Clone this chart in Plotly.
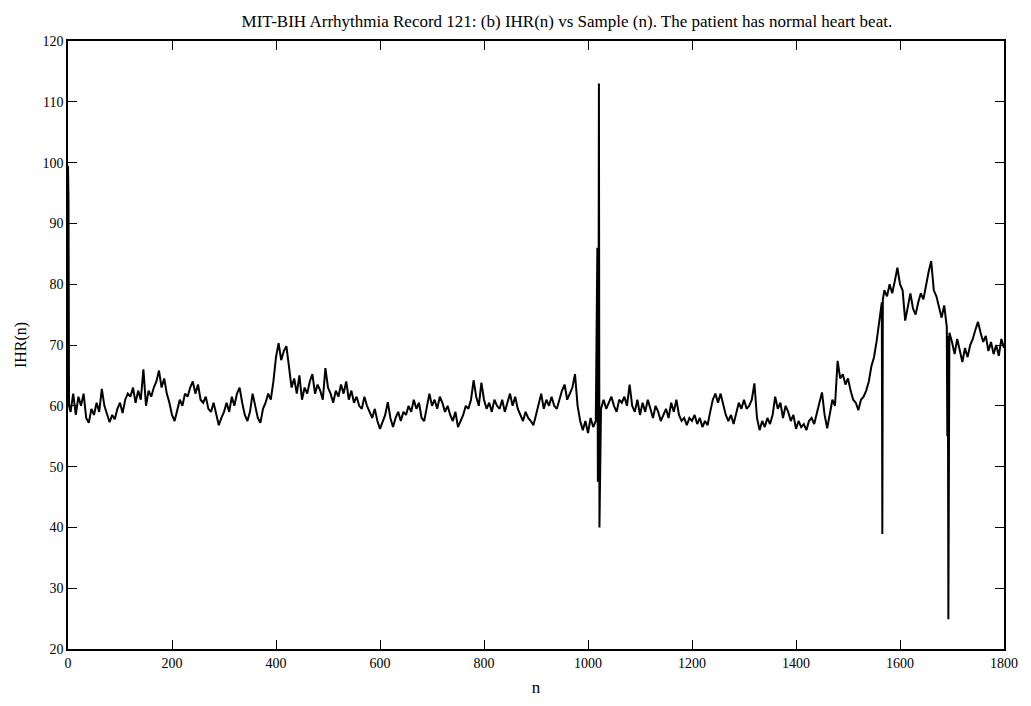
import plotly.graph_objects as go

n_step = 5
ihr_main = [
    # 0-45
    99.5, 59, 62, 58.5, 61.5, 60, 62, 58, 57.2, 59.5,
    # 50-95
    58.5, 60.5, 59, 62.8, 60, 58.5, 57.3, 58.5, 57.8, 59.5,
    # 100-145
    60.5, 58.8, 61, 62, 61.5, 63, 60.5, 62.5, 61, 66,
    # 150-195
    60, 62.5, 61.5, 63, 64, 65.8, 63, 64.5, 62, 60.5,
    # 200-245
    58.5, 57.5, 59.5, 61, 60, 62, 61.5, 63, 64, 62,
    # 250-295
    63.5, 61, 60.5, 61.5, 59.5, 59, 60.5, 58.5, 56.8, 58,
    # 300-345
    59, 60.5, 59, 61.5, 60, 62, 63, 60.5, 58.5, 57.5,
    # 350-395
    59, 62, 60, 58, 57.2, 59.5, 60.5, 62, 61, 64,
    # 400-445
    68, 70.3, 67.5, 69, 69.8, 66, 63, 64.5, 62, 65,
    # 450-495
    61, 63, 62, 64, 65.2, 62, 63.5, 62.5, 61, 66.2,
    # 500-545
    63, 62, 60.5, 62.5, 61.5, 63.5, 62, 64, 61, 62.5,
    # 550-595
    60.5, 61.5, 60, 59.5, 61.5, 60, 59, 58, 59.5, 57.5,
    # 600-645
    56.2, 57.5, 58.5, 60.6, 58, 56.5, 58, 59, 57.5, 59,
    # 650-695
    58.5, 60, 59, 61, 59.5, 60.5, 58, 57.5, 59.5, 62,
    # 700-745
    60, 61, 59.5, 61.5, 60.5, 59, 60, 58.5, 57.5, 59,
    # 750-795
    56.5, 57.5, 58.5, 60, 59.5, 61, 64.2, 61.5, 60, 63.8,
    # 800-845
    61, 59.5, 60.5, 59, 61, 60, 59.5, 61, 59, 60.5,
    # 850-895
    62, 60, 61.5, 59.5, 58.5, 57.5, 59, 58, 57.5, 56.8,
    # 900-945
    58.5, 60.5, 62, 59.5, 61, 60, 61.5, 60, 59.5, 61,
    # 950-995
    62.5, 63.5, 61, 62, 63, 65.2, 60, 57.5, 56, 57.5,
    # 1000-1045
    55.5, 58, 56.5, 57.5, 57, 59.5, 61, 59.5, 60.5, 61.5,
    # 1050-1095
    60, 59, 61, 60.5, 61.5, 60, 63.5, 60, 59, 61,
    # 1100-1145
    58.5, 60.5, 59, 61, 59.5, 58, 60, 59, 57.5, 58.5,
    # 1150-1195
    59.5, 58, 60.5, 59, 61, 58.5, 57.5, 58, 56.8, 58,
    # 1200-1245
    57.5, 58.5, 57, 58, 56.5, 57.5, 56.8, 59, 61, 62,
    # 1250-1295
    60.5, 62, 60, 58.5, 57.5, 58.5, 57, 59, 60.5, 59.5,
    # 1300-1345
    61, 59.5, 60, 61, 63.7, 58, 56, 57.5, 56.5, 58,
    # 1350-1395
    57, 58.5, 61.5, 59.5, 60.5, 58, 60, 59, 57.5, 58.5,
    # 1400-1445
    56.2, 57.5, 56.5, 57, 56, 57.5, 58, 57, 59, 60.5,
    # 1450-1495
    62.2, 58.5, 56.3, 58.5, 61, 60, 67.4, 64.5, 65.2, 63.5,
    # 1500-1545
    64.5, 62.5, 61, 60.5, 59.3, 61, 61.5, 62.5, 64, 66.5,
    # 1550-1595
    68, 70.6, 74, 77, 79, 78, 80, 78.5, 80.5, 82.7,
    # 1600-1645
    80, 79, 74, 76.5, 78.5, 76, 75, 77, 78.5, 77.5,
    # 1650-1695
    80, 82, 83.8, 79, 78, 76, 74.5, 76.5, 73, 72,
    # 1700-1745
    70.5, 68.5, 71, 69, 67.2, 69.5, 68, 70, 71, 72.5,
    # 1750-1795
    73.8, 72, 70.5, 71.5, 69, 70.5, 68.5, 70, 68.2, 71,
    # 1800
    69.5,
]

# isolated single-beat outliers (ectopic / detection glitches)
spike_n = [1, 2, 1018, 1019, 1021, 1022, 1566, 1567, 1691, 1692, 1693, 1694]
spike_ihr = [93.5, 60, 86, 47.5, 113, 40, 38.9, 77.5, 55, 71.5, 24.9, 70]

x_ticks = [0, 200, 400, 600, 800, 1000, 1200, 1400, 1600, 1800]
y_ticks = [20, 30, 40, 50, 60, 70, 80, 90, 100, 110, 120]

title_text = ("MIT-BIH Arrhythmia Record 121: (b) IHR(n) vs Sample (n). "
              "The patient has normal heart beat.")

# ---- build the series ----
n_main = [i * n_step for i in range(len(ihr_main))]
pairs = sorted(list(zip(n_main, ihr_main)) + list(zip(spike_n, spike_ihr)))
n_all = [p[0] for p in pairs]
ihr_all = [p[1] for p in pairs]

font_family = "Liberation Serif, Times New Roman, serif"

fig = go.Figure()
fig.add_trace(go.Scatter(
    x=n_all, y=ihr_all, mode="lines",
    line=dict(color="black", width=2),
    showlegend=False, hoverinfo="x+y",
))

axis_common = dict(
    showline=True, linecolor="black", linewidth=1.5, mirror="allticks",
    ticks="inside", ticklen=9, tickwidth=1.3, tickcolor="black",
    showgrid=False, zeroline=False,
    tickfont=dict(family=font_family, size=14, color="black"),
)

fig.update_layout(
    width=1031, height=706,
    paper_bgcolor="white", plot_bgcolor="white",
    margin=dict(l=60, r=35, t=33, b=65),
    font=dict(family=font_family, color="black"),
    title=dict(text=title_text, x=0.533, xref="paper", xanchor="center",
               y=0.99, yref="container", yanchor="top",
               pad=dict(t=0, b=0),
               font=dict(family=font_family, size=17, color="black")),
    xaxis=dict(range=[0, 1800], tickvals=x_ticks, ticktext=[str(v) for v in x_ticks],
               title=dict(text="n", standoff=12,
                          font=dict(family=font_family, size=17, color="black")),
               **axis_common),
    yaxis=dict(range=[20, 120], tickvals=y_ticks, ticktext=[str(v) for v in y_ticks],
               title=dict(text="IHR(n)", standoff=12,
                          font=dict(family=font_family, size=16, color="black")),
               **axis_common),
)

fig.write_html("out.html")
